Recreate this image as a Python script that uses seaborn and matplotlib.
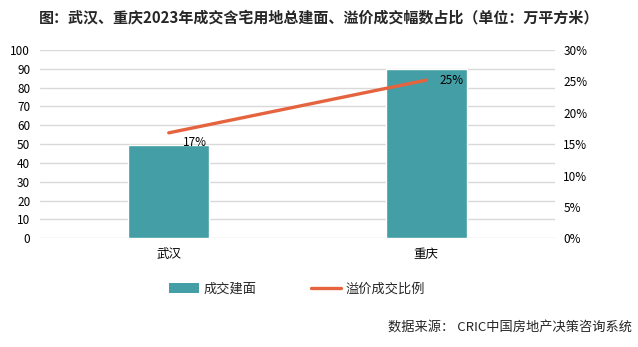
import matplotlib
matplotlib.use("Agg")
import matplotlib.pyplot as plt
import seaborn as sns
import pandas as pd
from matplotlib.patches import Patch
from matplotlib.lines import Line2D
from matplotlib.ticker import PercentFormatter

cities = ["武汉", "重庆"]
area = [49.5, 90]            # 成交建面 (万平方米)
premium_ratio = [0.168, 0.252]  # 溢价成交比例
ratio_labels = ["17%", "25%"]

title = "图：武汉、重庆2023年成交含宅用地总建面、溢价成交幅数占比（单位：万平方米）"
source = "数据来源： CRIC中国房地产决策咨询系统"

sns.set_theme(style="white")
plt.rcParams["font.family"] = ["Noto Sans CJK SC", "DejaVu Sans"]

BAR_C = "#439FA5"
LINE_C = "#E5643F"
GRID_C = "#D9D9D9"

df = pd.DataFrame({"city": cities, "area": area, "ratio": premium_ratio})

fig = plt.figure(figsize=(6.38, 3.47), dpi=100)
ax = fig.add_axes([40/638, 1-238.3/347, (555-40)/638, (238.3-50)/347])

sns.barplot(data=df, x="city", y="area", color=BAR_C, width=0.315,
            saturation=1, ax=ax, zorder=2)
ax.set_ylim(0, 100)
ax.set_xlim(-0.5, 1.5)
ax.set_yticks(range(0, 101, 10))
ax.grid(axis="y", color=GRID_C, linewidth=1, zorder=0)
ax.set_axisbelow(True)
ax.set_xlabel("")
ax.set_ylabel("")
for s in ax.spines.values():
    s.set_visible(False)
ax.tick_params(axis="both", length=0, labelsize=8.5, colors="#000000")
ax.tick_params(axis="y", pad=7)
ax.tick_params(axis="x", pad=7, labelsize=9)

ax2 = ax.twinx()
sns.lineplot(data=df, x="city", y="ratio", color=LINE_C, linewidth=2.4,
             ax=ax2, zorder=3)
ax2.set_ylim(0, 0.30)
ax2.set_yticks([0, 0.05, 0.10, 0.15, 0.20, 0.25, 0.30])
ax2.yaxis.set_major_formatter(PercentFormatter(1.0, decimals=0))
ax2.set_ylabel("")
for s in ax2.spines.values():
    s.set_visible(False)
ax2.tick_params(axis="y", length=0, labelsize=8.5, pad=6, colors="#000000")
ax.set_xlim(-0.5, 1.5)

offsets = [(19, -7), (18, 0)]
for i, (v, lab) in enumerate(zip(premium_ratio, ratio_labels)):
    ax2.annotate(lab, (i, v), xytext=offsets[i], textcoords="offset points",
                 ha="center", va="center", fontsize=8.5, color="#000000")

fig.text(0.5, 1-18/347, title, ha="center", va="center",
         fontsize=10.8, fontweight="bold")

handles = [Patch(facecolor=BAR_C, edgecolor="none"),
           Line2D([0], [0], color=LINE_C, linewidth=2.4)]
fig.legend(handles, ["成交建面", "溢价成交比例"], loc="center",
           bbox_to_anchor=(297/638, 1-289/347), ncol=2, frameon=False,
           fontsize=9.5, handlelength=2.27, handleheight=0.85,
           handletextpad=0.3, columnspacing=4.2)

fig.text(632/638, 1-327/347, source, ha="right", va="center", fontsize=9.5)

fig.savefig("out.png", dpi=100)
